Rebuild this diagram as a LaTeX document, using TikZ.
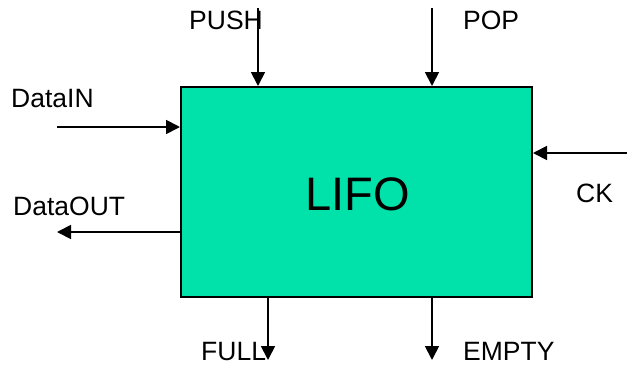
\documentclass[tikz,border=0pt]{standalone}
\usepackage{fontspec}
\setmainfont{Liberation Sans}
\usepackage{tikz}
\usetikzlibrary{positioning, calc, arrows.meta}

\definecolor{lifogreen}{RGB}{0,226,170}

\begin{document}
\begin{tikzpicture}[
        x=1pt, y=-1pt,
        lifobox/.style={
            rectangle, draw=black, fill=lifogreen, line width=2pt,
            minimum width=351pt, minimum height=210pt, inner sep=0pt
        },
        title/.style={font=\fontsize{47}{56}\selectfont, inner sep=0pt, anchor=base},
        signal/.style={font=\fontsize{26.5}{32}\selectfont, inner sep=0pt, anchor=base west},
        arrow/.style={-{Triangle[length=14pt,width=14pt]}, line width=1.8pt}
    ]
        \useasboundingbox (0,0) rectangle (627,365);

        % block
        \node[lifobox] (lifo) at (356.5,192) {};
        \node[title] (lifotext) at (357.5,210) {LIFO};

        % free ends of the connectors
        \coordinate (pushend) at (258,8);
        \coordinate (popend) at (432,8);
        \coordinate (dinend) at (57,127);
        \coordinate (doutend) at (57,232);
        \coordinate (ckend) at (627,153);
        \coordinate (fullend) at (268,360);
        \coordinate (emptyend) at (432,360);

        % labels
        \node[signal] (push) at (189,29) {PUSH};
        \node[signal] (pop) at (463,29) {POP};
        \node[signal] (din) at (11,107) {DataIN};
        \node[signal] (dout) at (13,215) {DataOUT};
        \node[signal] (ck) at (576,202) {CK};
        \node[signal] (full) at (201,360) {FULL};
        \node[signal] (empty) at (463,360) {EMPTY};

        % connectors
        \draw[arrow] (pushend) -- (pushend |- lifo.north);
        \draw[arrow] (popend) -- (popend |- lifo.north);
        \draw[arrow] (dinend) -- (dinend -| lifo.west);
        \draw[arrow] (doutend -| lifo.west) -- (doutend);
        \draw[arrow] (ckend) -- (ckend -| lifo.east);
        \draw[arrow] (fullend |- lifo.south) -- (fullend);
        \draw[arrow] (emptyend |- lifo.south) -- (emptyend);
    \end{tikzpicture}
\end{document}
